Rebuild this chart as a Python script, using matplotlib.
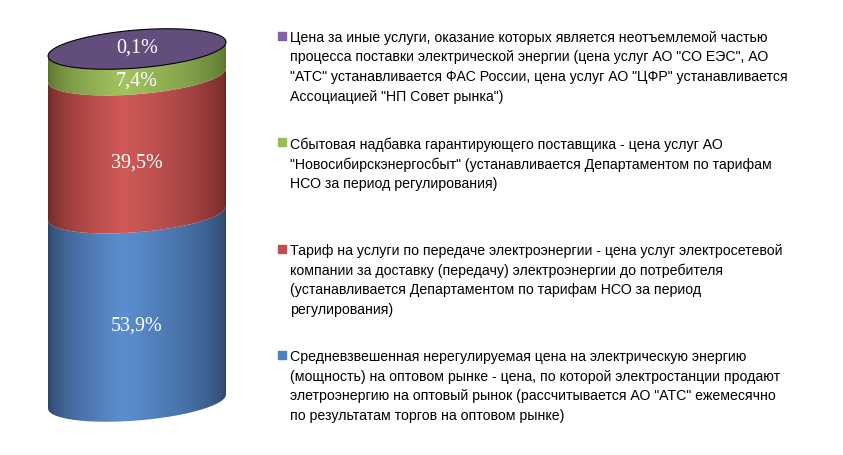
"""
Cylinder chart: structure of the end-user electricity price (shares, %).
Draws a single stacked 3D-look cylinder plus a wrapped legend on the right.
"""

import matplotlib
matplotlib.use('Agg')
import matplotlib.pyplot as plt
import numpy as np
from matplotlib.patches import Polygon, Rectangle
from matplotlib.colors import to_rgb

# ============================================================
# Data (stacking order: bottom -> top)
# ============================================================

shares = [53.9, 39.5, 7.4, 0.1]
share_labels = ["53,9%", "39,5%", "7,4%", "0,1%"]

legend_texts = [
    "Средневзвешенная нерегулируемая цена на электрическую энергию\n"
    "(мощность) на оптовом рынке - цена, по которой электростанции продают\n"
    "элетроэнергию на оптовый рынок (рассчитывается АО \"АТС\" ежемесячно\n"
    "по результатам торгов на оптовом рынке)",
    "Тариф на услуги по передаче электроэнергии - цена услуг электросетевой\n"
    "компании за доставку (передачу) электроэнергии до потребителя\n"
    "(устанавливается Департаментом по тарифам НСО за период\n"
    "регулирования)",
    "Сбытовая надбавка гарантирующего поставщика - цена услуг АО\n"
    "\"Новосибирскэнергосбыт\" (устанавливается Департаментом по тарифам\n"
    "НСО за период регулирования)",
    "Цена за иные услуги, оказание которых является неотъемлемой частью\n"
    "процесса поставки электрической энергии (цена услуг АО \"СО ЕЭС\", АО\n"
    "\"АТС\" устанавливается ФАС России, цена услуг АО \"ЦФР\" устанавливается\n"
    "Ассоциацией \"НП Совет рынка\")",
]

marker_colors = ["#4F81BD", "#C0504D", "#9BBB59", "#8064A2"]
side_light = ["#5B8ED0", "#D05A58", "#A3C35F", "#8567A8"]
side_dark = ["#2B4366", "#6C2625", "#56702C", "#3F3052"]
top_color = "#634D7D"

# ============================================================
# Layout (pixels)
# ============================================================

W, H = 843, 455
CX, RX = 137, 89          # cylinder centre / half width
RY = 19                   # half height of the ellipses
SLANT = 14                # right end of an ellipse sits this much higher
Y_BASE, Y_TOP = 401.5, 49  # centres of bottom / top ellipse

LEG_X = 278
LEG_TOP = 36
LEG_STEP = 106.4


def shade(light, dark, n=300, peak=0.42):
    """Horizontal light/dark gradient across the cylinder."""
    u = np.linspace(0, 1, n)
    t = np.where(u < peak, u / peak, (1 - u) / (1 - peak))
    t = np.clip(t, 0, 1) ** 0.55
    l, d = np.array(to_rgb(light)), np.array(to_rgb(dark))
    return (d + (l - d) * t[:, None])[None, :, :]


fig = plt.figure(figsize=(W / 100, H / 100), dpi=100)
ax = fig.add_axes([0, 0, 1, 1])
ax.axis('off')

total = sum(shares)
ppu = (Y_BASE - Y_TOP) / total       # pixels per percent
ry = RY / ppu
slope = SLANT / (2 * RX) / ppu

xs = np.linspace(CX - RX, CX + RX, 300)
u = (xs - CX) / RX
arc = np.sqrt(np.clip(1 - u ** 2, 0, 1))


def front(level):
    return level + slope * (xs - CX) - ry * arc


def back(level):
    return level + slope * (xs - CX) + ry * arc


levels = np.concatenate([[0], np.cumsum(shares)])

for i in range(len(shares)):
    y0, y1 = levels[i], levels[i + 1]
    pts = np.vstack([np.column_stack([xs, front(y0)]),
                     np.column_stack([xs[::-1], front(y1)[::-1]])])
    poly = Polygon(pts, closed=True, facecolor='none', edgecolor='none')
    ax.add_patch(poly)
    im = ax.imshow(shade(side_light[i], side_dark[i]),
                   extent=[CX - RX, CX + RX, y0 - 3 * ry, y1 + 3 * ry],
                   aspect='auto', interpolation='bilinear', zorder=1)
    im.set_clip_path(poly)

# top cap
cap = np.vstack([np.column_stack([xs, front(total)]),
                 np.column_stack([xs[::-1], back(total)[::-1]])])
ax.add_patch(Polygon(cap, closed=True, facecolor=top_color,
                     edgecolor='black', lw=0.8, zorder=3))

# value labels: top share on the cap, the rest on the front face
for i, lab in enumerate(share_labels):
    y0, y1 = levels[i], levels[i + 1]
    if i == len(shares) - 1:
        y = total + 0.4
    else:
        y = (y0 + y1) / 2 - ry
    ax.text(CX, y, lab, color='white', fontsize=14.5, family='Liberation Serif',
            ha='center', va='center', zorder=5)

ax.set_xlim(0, W)
ax.set_ylim(-(H - Y_BASE) / ppu, Y_BASE / ppu)

# ============================================================
# Legend
# ============================================================

lax = fig.add_axes([0, 0, 1, 1])
lax.set_xlim(0, W)
lax.set_ylim(H, 0)
lax.axis('off')
lax.patch.set_alpha(0)

order = list(range(len(shares)))[::-1]
for j, i in enumerate(order):
    yc = LEG_TOP + j * LEG_STEP
    lax.add_patch(Rectangle((LEG_X, yc - 4), 8, 8, color=marker_colors[i]))
    lax.text(LEG_X + 12, yc - 5, legend_texts[i], fontsize=10.2,
             family='Liberation Sans', color='black', ha='left', va='top',
             linespacing=1.5)

plt.savefig("out.png", dpi=100)
plt.close()
print("Saved: out.png")
